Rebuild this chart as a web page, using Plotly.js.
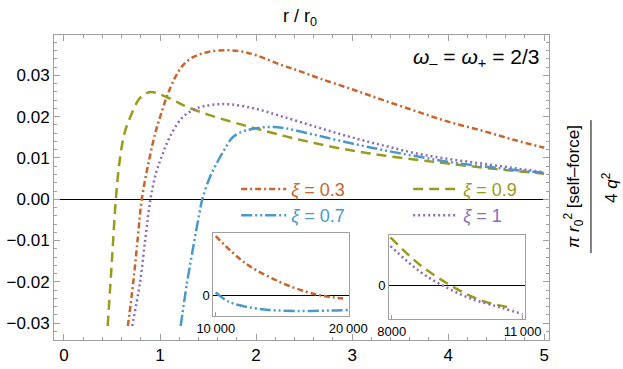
<!DOCTYPE html>
<html>
<head>
<meta charset="utf-8">
<script src="https://cdn.plot.ly/plotly-3.0.1.min.js"></script>
<style>
  html, body { margin: 0; padding: 0; background: #fff; }
  #chart { width: 623px; height: 369px; }
</style>
</head>
<body>
<div id="chart"></div>
<script>
// main curves
var xi03_x = [0.665, 0.72, 0.77, 0.81, 0.885, 0.95, 1.0, 1.07, 1.15, 1.24, 1.35, 1.5, 1.69, 1.85, 2.0, 2.28, 2.46, 2.67, 2.98, 3.3, 3.67, 4.0, 4.37, 4.7, 5.0];
var xi03_y = [-0.0307, -0.0204, -0.009, 0, 0.0094, 0.016, 0.0199, 0.0248, 0.0292, 0.0325, 0.0345, 0.0357, 0.0361, 0.0358, 0.0349, 0.0324, 0.0310, 0.0292, 0.0268, 0.0242, 0.0213, 0.0188, 0.0165, 0.0143, 0.0125];

var xi09_x = [0.455, 0.50, 0.54, 0.58, 0.63, 0.69, 0.79, 0.90, 1.0, 1.14, 1.24, 1.5, 1.94, 2.3, 2.63, 3.0, 3.33, 3.7, 4.02, 4.5, 5.0];
var xi09_y = [-0.0307, -0.0145, 0, 0.0094, 0.016, 0.0199, 0.0245, 0.0260, 0.0254, 0.0240, 0.0228, 0.0205, 0.0175, 0.0153, 0.0135, 0.0118, 0.0106, 0.0095, 0.0086, 0.0073, 0.0062];

var xi07_x = [1.215, 1.28, 1.35, 1.41, 1.44, 1.52, 1.59, 1.67, 1.76, 1.9, 2.11, 2.3, 2.63, 3.0, 3.33, 3.67, 4.02, 4.5, 5.0];
var xi07_y = [-0.0307, -0.0204, -0.011, -0.0034, 0, 0.0054, 0.0087, 0.0120, 0.0151, 0.0167, 0.0175, 0.0172, 0.0155, 0.0135, 0.0119, 0.0104, 0.0090, 0.0076, 0.0064];

var xi1_x = [0.71, 0.79, 0.85, 0.90, 0.96, 1.02, 1.1, 1.24, 1.4, 1.55, 1.73, 2.0, 2.28, 2.63, 2.98, 3.33, 3.67, 4.02, 4.37, 4.7, 5.0];
var xi1_y = [-0.0307, -0.0204, -0.009, 0, 0.0065, 0.0105, 0.0150, 0.0200, 0.0222, 0.0229, 0.0230, 0.0219, 0.0200, 0.0175, 0.0151, 0.0130, 0.0111, 0.0097, 0.0086, 0.0075, 0.0065];

// inset 1 (large r, xi = 0.3 and 0.7), arbitrary y units
var in1_x03 = [10000, 12240, 14780, 16820, 18090, 19620];
var in1_y03 = [2.86, 1.55, 0.66, 0.17, -0.03, -0.16];
var in1_x07 = [10000, 10960, 12240, 14020, 16060, 18600, 20000];
var in1_y07 = [0.13, -0.31, -0.55, -0.71, -0.76, -0.74, -0.71];

// inset 2 (xi = 0.9 and 1)
var in2_x09 = [7970, 8648, 9335, 10022, 10786];
var in2_y09 = [2.8, 1.18, 0, -0.88, -1.37];
var in2_x1 = [7970, 8648, 9145, 9794, 10557, 11000];
var in2_y1 = [2.29, 0.78, 0, -0.78, -1.37, -1.71];

var in1_ticks = [10000, 20000];
var in1_labels = ['10\u2009000', '20\u2009000'];
var in2_ticks = [8000, 11000];
var in2_labels = ['8000', '11\u2009000'];

var cOrange = '#c8642c', cGreen = '#9a9a1c', cBlue = '#4a98cc', cPurple = '#8a6cbf';
var dOrange = '6px,3px,2px,3px', dGreen = '10px,6px', dBlue = '11px,3px,2px,3px,2px,3px', dPurple = '2px,3px';

function nm(t, c) { return '<span style="color:' + c + '"><i>ξ</i> = ' + t + '</span>'; }

var traces = [
  {x: xi03_x, y: xi03_y, name: nm('0.3', cOrange), mode: 'lines', line: {color: cOrange, width: 2.5, dash: dOrange, shape: 'spline'}},
  {x: xi09_x, y: xi09_y, name: nm('0.9', cGreen), mode: 'lines', line: {color: cGreen, width: 2.5, dash: dGreen, shape: 'spline'}},
  {x: xi07_x, y: xi07_y, name: nm('0.7', cBlue), mode: 'lines', line: {color: cBlue, width: 2.5, dash: dBlue, shape: 'spline'}},
  {x: xi1_x, y: xi1_y, name: nm('1', cPurple), mode: 'lines', line: {color: cPurple, width: 2.5, dash: dPurple, shape: 'spline'}},

  {x: in1_x03, y: in1_y03, xaxis: 'x2', yaxis: 'y2', mode: 'lines', showlegend: false, line: {color: cOrange, width: 2.5, dash: dOrange, shape: 'spline'}},
  {x: in1_x07, y: in1_y07, xaxis: 'x2', yaxis: 'y2', mode: 'lines', showlegend: false, line: {color: cBlue, width: 2.5, dash: dBlue, shape: 'spline'}},
  {x: in2_x09, y: in2_y09, xaxis: 'x3', yaxis: 'y3', mode: 'lines', showlegend: false, line: {color: cGreen, width: 2.5, dash: dGreen, shape: 'spline'}},
  {x: in2_x1, y: in2_y1, xaxis: 'x3', yaxis: 'y3', mode: 'lines', showlegend: false, line: {color: cPurple, width: 2.5, dash: dPurple, shape: 'spline'}}
];

var frame = '#a0a0a0';
var inX = {showline: true, mirror: true, linecolor: frame, linewidth: 1, showgrid: false, zeroline: false,
  ticks: 'inside', ticklen: 4, tickcolor: frame, tickfont: {size: 13, color: '#000'}, fixedrange: true};
var inY = {showline: true, mirror: true, linecolor: frame, linewidth: 1, showgrid: false,
  zeroline: true, zerolinecolor: '#000', zerolinewidth: 1, tickvals: [0], ticktext: ['0'], ticks: '',
  tickfont: {size: 13, color: '#000'}, fixedrange: true};

var layout = {
  width: 623, height: 369,
  margin: {l: 54, r: 74, t: 35, b: 29, autoexpand: false},
  paper_bgcolor: '#fff', plot_bgcolor: '#fff',
  font: {family: 'Liberation Sans, Arial, sans-serif', size: 17, color: '#000'},
  xaxis: {range: [-0.104, 5.05], tickvals: [0, 1, 2, 3, 4, 5], showline: true, mirror: 'allticks', linecolor: frame,
    ticks: 'inside', ticklen: 6, tickcolor: frame, showgrid: false, zeroline: false,
    minor: {dtick: 0.2, ticks: 'inside', ticklen: 3, tickcolor: frame, showgrid: false}},
  yaxis: {range: [-0.0341, 0.0398], dtick: 0.01, tickformat: '.2f', showline: true, mirror: 'allticks', linecolor: frame,
    ticks: 'inside', ticklen: 6, tickcolor: frame, showgrid: false, zeroline: true, zerolinecolor: '#000', zerolinewidth: 1,
    minor: {dtick: 0.002, ticks: 'inside', ticklen: 3, tickcolor: frame, showgrid: false}},
  xaxis2: Object.assign({}, inX, {domain: [0.322, 0.596], anchor: 'y2', range: [9820, 20060], tickvals: in1_ticks, ticktext: in1_labels}),
  yaxis2: Object.assign({}, inY, {domain: [0.079, 0.350], anchor: 'x2', range: [-1, 3.0]}),
  xaxis3: Object.assign({}, inX, {domain: [0.677, 0.952], anchor: 'y3', range: [7938, 11062], tickvals: in2_ticks, ticktext: in2_labels}),
  yaxis3: Object.assign({}, inY, {domain: [0.069, 0.344], anchor: 'x3', range: [-2, 2.94]}),
  showlegend: true,
  legend: {orientation: 'h', x: 0.368, y: 0.555, xanchor: 'left', yanchor: 'top', bgcolor: 'rgba(0,0,0,0)',
    font: {size: 18}, entrywidth: 112, itemwidth: 45, tracegroupgap: 0},
  annotations: [
    {xref: 'paper', yref: 'paper', x: 0.497, y: 1.057, xanchor: 'center', yanchor: 'middle', text: 'r / r<sub>0</sub>', showarrow: false, font: {size: 18}},
    {xref: 'paper', yref: 'paper', x: 0.985, y: 0.925, xanchor: 'right', yanchor: 'middle', showarrow: false, font: {size: 21},
      text: '<i>ω</i><sub>–</sub> = <i>ω</i><sub>+</sub> = 2/3'},
    {xref: 'paper', yref: 'paper', x: 1.0485, y: 0.5016, xanchor: 'center', yanchor: 'middle', textangle: -90, showarrow: false, font: {size: 17},
      text: '<i>π r</i><sub>0</sub><sup>2</sup> [self–force]'},
    {xref: 'paper', yref: 'paper', x: 1.123, y: 0.5016, xanchor: 'center', yanchor: 'middle', textangle: -90, showarrow: false, font: {size: 17},
      text: '4 <i>q</i><sup>2</sup>'}
  ],
  shapes: [
    {type: 'line', xref: 'paper', yref: 'paper', x0: 1.0848, x1: 1.0848, y0: 0.285, y1: 0.721, line: {color: '#000', width: 1}}
  ]
};

Plotly.newPlot('chart', traces, layout, {staticPlot: true, displayModeBar: false});
</script>
</body>
</html>
